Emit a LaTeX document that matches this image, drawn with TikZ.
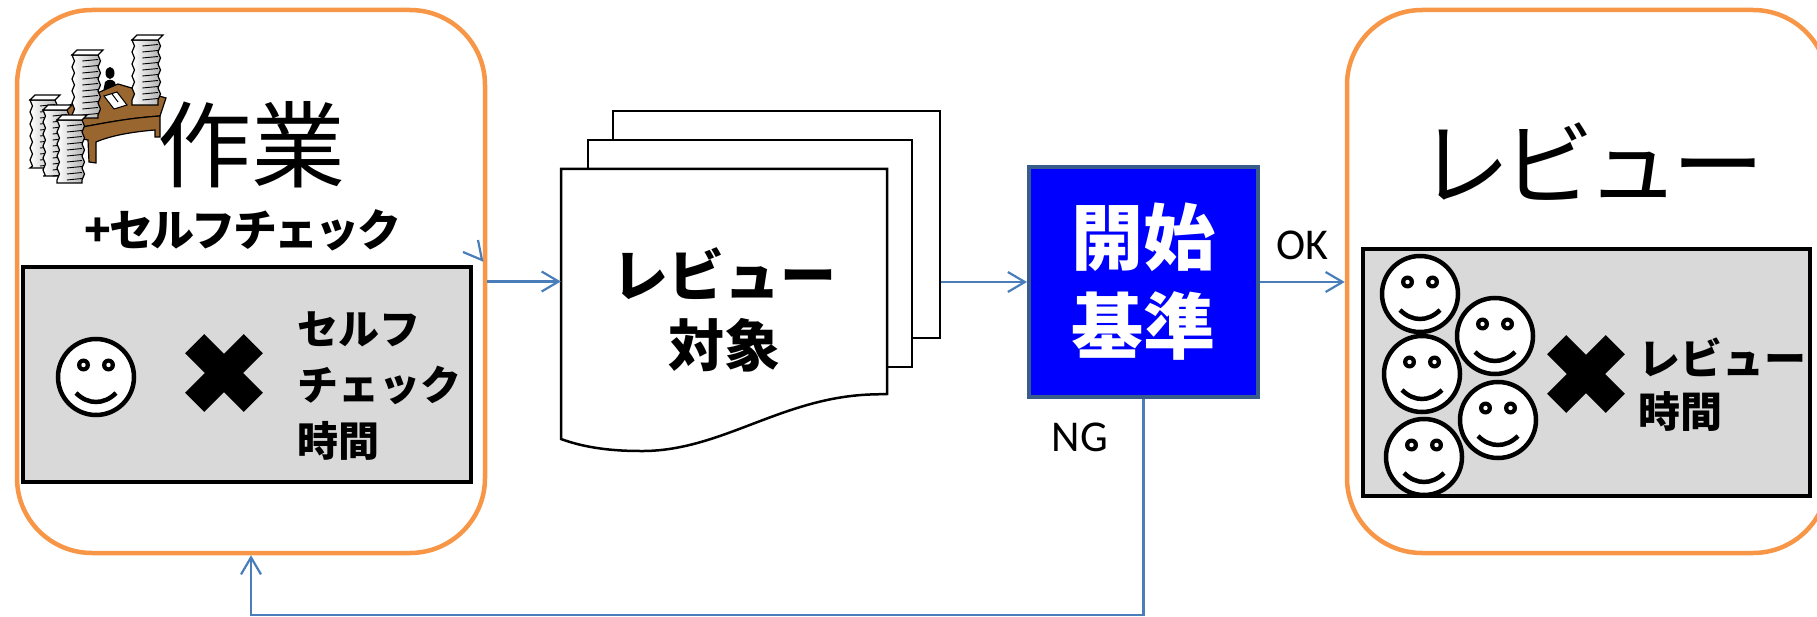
\documentclass[tikz,border=0pt]{standalone}
\usepackage{fontspec}
\newfontfamily\jpfont{Noto Sans CJK JP}
\newfontfamily\okfont{Carlito}
\usetikzlibrary{arrows.meta}
\definecolor{boxorange}{HTML}{F79646}
\definecolor{connblue}{HTML}{4A7EBB}
\definecolor{panelgray}{HTML}{D9D9D9}
\definecolor{critborder}{HTML}{385D8A}
\definecolor{deskbrown}{HTML}{9A6630}
\begin{document}
\begin{tikzpicture}[x=1pt,y=-1pt,
  frame/.style={draw=boxorange, line width=4.5pt, rounded corners=75pt, fill=white},
  panel/.style={draw=black, line width=4.5pt, fill=panelgray},
  sheet/.style={draw=black, line width=2.5pt, fill=white},
  conn/.style={draw=connblue, line width=2.2pt, -{Straight Barb[length=17pt,width=20pt]}},
  desk/.style={draw=black, line width=1.2pt, fill=deskbrown},
  big/.style={font=\jpfont\fontsize{94}{94}\selectfont},
  pics/smiley/.style={code={
    \draw[line width=4.5pt, fill=white] (0,0) circle[radius=38];
    \foreach \s in {-1,1}{
      \fill (\s*12.5,-12) circle[radius=6.5];
      \fill[white] (\s*12.5,-12) circle[radius=2.2];
    }
    \draw[line width=4.5pt] (-20,16) .. controls (-8,28) and (8,28) .. (20,16);
  }},
  pics/cross/.style={code={
    \fill[rotate=45] (-41.5,-13.5) rectangle (41.5,13.5);
    \fill[rotate=-45] (-41.5,-13.5) rectangle (41.5,13.5);
  }},
  pics/paperstack/.style 2 args={code={
    \pgfmathtruncatemacro\sheets{#2/6}
    \path[draw=black, line width=1.2pt, left color=white, right color=black!30]
      (0,0) \foreach \i in {1,...,\sheets}{ -- ({mod(\i,2)*2.5},\i*6) } -- (0,#2) -- (#1,#2)
      \foreach \i in {\sheets,...,1}{ -- ({#1+mod(\i,2)*2.5},\i*6) } -- (#1,0) -- cycle;
    \draw[line width=1.2pt, fill=white] (0,0) -- (#1,0) -- ++(5,-5) -- (5,-5) -- cycle;
    \foreach \i in {1,...,\sheets} \draw[line width=0.9pt] (#1*0.4,\i*6) -- (#1,\i*6-1.5);
  }}]
\useasboundingbox (0,0) rectangle (1817,617);

% outer frames
\node[frame, minimum width=468pt, minimum height=543pt] (work) at (251,281.5) {};
\node[frame, minimum width=481pt, minimum height=543pt] (review) at (1587.5,281.5) {};

% grey panels
\node[panel, minimum width=448pt, minimum height=215pt] (selfpanel) at (247,374.5) {};
\node[panel, minimum width=447pt, minimum height=247pt] (reviewpanel) at (1586.5,372.5) {};

% worker at the desk
\fill (110,73) ellipse[x radius=4.5, y radius=6];
\fill (103,92) -- (105,82) .. controls (108,79) and (112,79) .. (115,82) -- (117,92) -- cycle;
\draw[desk] (63,108) -- (118,84) -- (166,98) -- (160,116) .. controls (130,118) and (110,122) .. (77,128) -- cycle;
\draw[desk] (77,128) .. controls (110,122) and (130,118) .. (160,116) -- (160,137) -- (155,137) -- (155,130)
  .. controls (130,132) and (110,136) .. (96,142) -- (96,163) -- (89,162) -- (88,140) -- (77,138) -- cycle;
\draw[fill=white, line width=1pt] (104,96) -- (117,92) -- (127,105) -- (114,109) -- cycle;
\draw[line width=1pt] (112,94) -- (118,102);
\pic at (72,55) {paperstack={26}{63}};
\pic at (132,40) {paperstack={26}{65}};
\pic at (30,100) {paperstack={25}{68}};
\pic at (43,110) {paperstack={24}{66}};
\pic at (57,120) {paperstack={25}{63}};

% titles
\node[big] (worktitle) at (251,145) {作業};
\node[font=\jpfont\bfseries\fontsize{44}{44}\selectfont\addfontfeatures{LetterSpace=-6}] (selfcheck) at (243,230) {+セルフチェック};
\node[big, font=\jpfont\fontsize{92}{92}\selectfont\addfontfeatures{LetterSpace=-8}] (reviewtitle) at (1591,162) {レビュー};

% self check panel
\pic at (96,377) {smiley};
\pic at (224,373) {cross};
\node[anchor=west, align=left, inner sep=0pt, font=\jpfont\bfseries\fontsize{41}{56}\selectfont] (selftime) at (297,386) {セルフ\\チェック\\時間};

% review panel
\pic at (1420,294) {smiley};
\pic at (1495,336) {smiley};
\pic at (1422,374) {smiley};
\pic at (1498,420) {smiley};
\pic at (1424,457) {smiley};
\pic at (1586,374) {cross};
\node[anchor=west, align=left, inner sep=0pt, font=\jpfont\bfseries\fontsize{42}{53}\selectfont] (reviewtime) at (1638,384.5) {レビュー\\時間};

% document stack
\node[sheet, minimum width=327pt, minimum height=227pt] (page3) at (776.5,224.5) {};
\node[sheet, minimum width=324pt, minimum height=227pt] (page2) at (750,253.5) {};
\draw[sheet] (561,169) -- (887,169) -- (887,394) -- (870,394.5) .. controls (780,398) and (720,452) .. (640,451)
  .. controls (605,451) and (580,446) .. (561,439) -- cycle;
\node[minimum width=326pt, minimum height=281pt, align=center, font=\jpfont\bfseries\fontsize{56}{70}\selectfont] (doc) at (724,309.5) {レビュー\\対象};

% start criteria
\node[draw=critborder, fill=blue, line width=4pt, minimum width=229pt, minimum height=230pt, text=white, align=center,
  font=\jpfont\bfseries\fontsize{72}{89}\selectfont] (crit) at (1143.5,282) {開始\\基準};

% connectors
\draw[conn] (work.east) -- (work.east -| doc.west);
\draw[conn] (crit.west -| page3.east) -- (crit.west);
\draw[conn] (crit.east) -- (crit.east -| review.west);
\coordinate (bottomrun) at (0,615);
\draw[conn] (crit.south) |- (bottomrun -| work.south) -- (work.south);
\draw[connblue, line width=2.2pt] (463,252) -- (482,260) -- (478,240);

% labels
\node[font=\okfont\fontsize{44}{44}\selectfont] (ok) at (1302,245) {OK};
\node[font=\okfont\fontsize{44}{44}\selectfont] (ng) at (1080,437) {NG};
\end{tikzpicture}
\end{document}
